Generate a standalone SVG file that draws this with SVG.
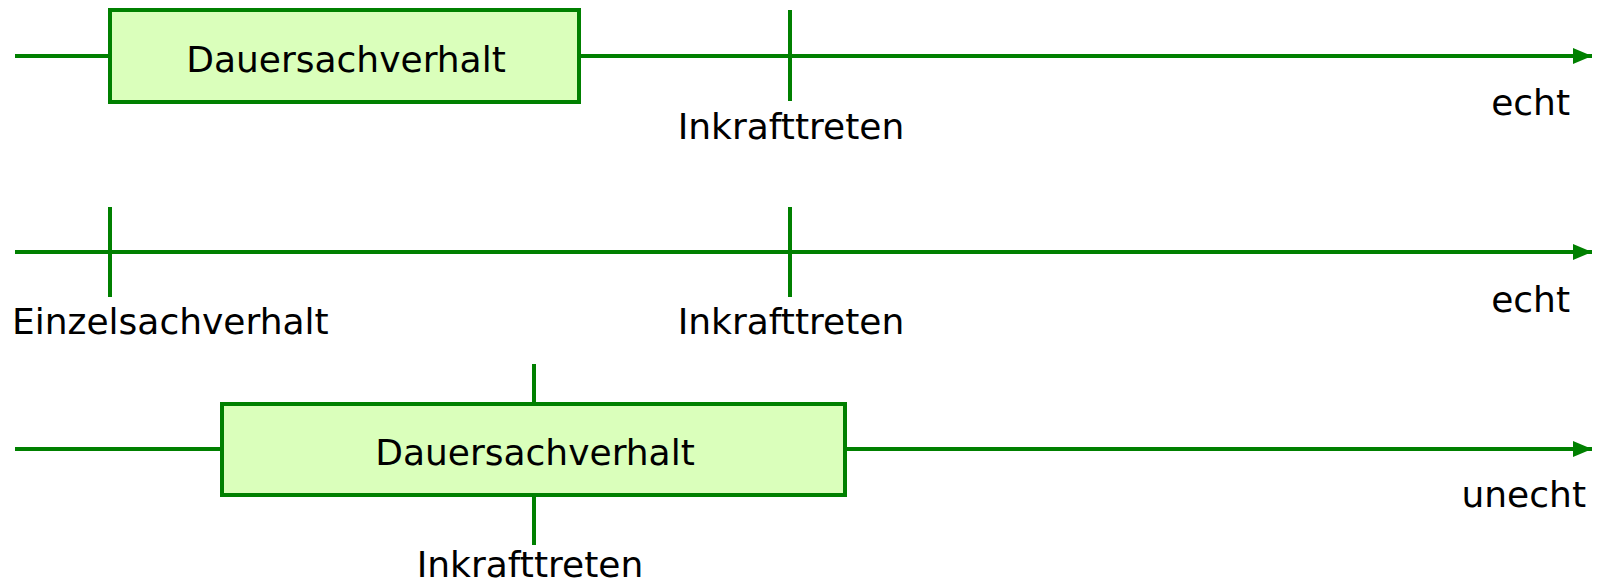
<svg xmlns="http://www.w3.org/2000/svg" width="1599" height="582" viewBox="0 0 1599 582">
  <style>
    .axis { stroke: #008000; stroke-width: 4; fill: none; }
    .tick { stroke: #008000; stroke-width: 4; }
    .box { fill: #daffbb; stroke: #008000; stroke-width: 4; }
    text { font-family: "DejaVu Sans", "Liberation Sans", sans-serif; font-size: 36px; fill: #000; }
  </style>
  <defs>
    <marker id="arrow" markerUnits="userSpaceOnUse" markerWidth="20" markerHeight="18" refX="19" refY="9" orient="auto">
      <path d="M0,1 L19,9 L0,17 Z" fill="#008000"/>
    </marker>
  </defs>

  <g id="connectors">
    <line class="axis" x1="15" y1="56" x2="1592" y2="56" marker-end="url(#arrow)"/>
    <line class="axis" x1="15" y1="252" x2="1592" y2="252" marker-end="url(#arrow)"/>
    <line class="axis" x1="15" y1="449" x2="1592" y2="449" marker-end="url(#arrow)"/>
    <line class="tick" x1="790" y1="10" x2="790" y2="101"/>
    <line class="tick" x1="110" y1="207" x2="110" y2="297"/>
    <line class="tick" x1="790" y1="207" x2="790" y2="297"/>
    <line class="tick" x1="534" y1="364" x2="534" y2="545"/>
  </g>

  <g id="dauer1">
    <rect class="box" x="110" y="10" width="469" height="92"/>
    <text x="346" y="72" text-anchor="middle">Dauersachverhalt</text>
  </g>
  <g id="inkraft1">
    <text x="791" y="139" text-anchor="middle">Inkrafttreten</text>
  </g>
  <g id="echt1">
    <text x="1570" y="115" text-anchor="end">echt</text>
  </g>

  <g id="einzel">
    <text x="12" y="334">Einzelsachverhalt</text>
  </g>
  <g id="inkraft2">
    <text x="791" y="334" text-anchor="middle">Inkrafttreten</text>
  </g>
  <g id="echt2">
    <text x="1570" y="312" text-anchor="end">echt</text>
  </g>

  <g id="dauer2">
    <rect class="box" x="222" y="404" width="623" height="91"/>
    <text x="535" y="465" text-anchor="middle">Dauersachverhalt</text>
  </g>
  <g id="unecht">
    <text x="1586" y="507" text-anchor="end">unecht</text>
  </g>
  <g id="inkraft3">
    <text x="530" y="577" text-anchor="middle">Inkrafttreten</text>
  </g>
</svg>
